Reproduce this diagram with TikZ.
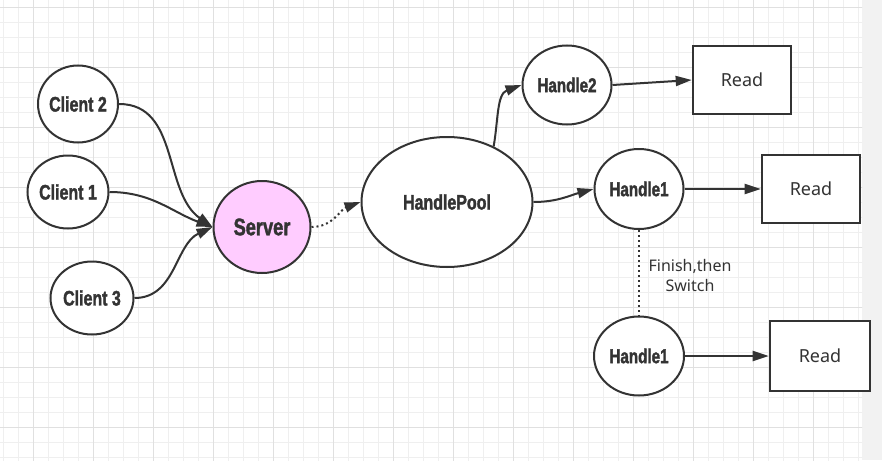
\documentclass[tikz,border=0pt]{standalone}
\usepackage{fontspec}
\usetikzlibrary{positioning,shapes.geometric,arrows.meta}
\newfontfamily\headfont{Liberation Sans}[FakeStretch=0.76, BoldFeatures={FakeBold=1.6}]
\newfontfamily\readfont{Noto Sans}
\definecolor{ink}{HTML}{333333}
\definecolor{gridminor}{HTML}{EFEFEF}
\definecolor{gridmajor}{HTML}{E0E0E0}
\definecolor{strip}{HTML}{F2F2F2}
\definecolor{srvfill}{HTML}{FFCCFF}
\tikzset{
state/.style={ellipse, draw=ink, line width=2pt, fill=white, inner xsep=-4pt, inner ysep=0pt, text=ink},
client/.style={state, font=\headfont\bfseries\fontsize{21}{25}\selectfont},
handle/.style={state, font=\headfont\bfseries\fontsize{20}{24}\selectfont},
readbox/.style={rectangle, draw=ink, line width=2.6pt, fill=white, minimum width=98pt, minimum height=68pt, text=ink, font=\readfont\fontsize{18}{22}\selectfont},
flow/.style={draw=ink, line width=2pt, -{Triangle[length=16pt,width=10pt]}},
switchline/.style={draw=ink, line width=2pt, dash pattern=on 2pt off 3pt},
}
\begin{document}
\begin{tikzpicture}[x=1pt, y=1pt, on grid]
\useasboundingbox (0,0) rectangle (882,-460);
\fill[white] (0,0) rectangle (862,-460);
\fill[strip] (862,0) rectangle (882,-460);
\begin{scope}
\clip (0,0) rectangle (862,-460);
\draw[gridminor, line width=1pt, xshift=3.3pt, yshift=-7.3pt] (-30,-480) grid[step=15pt] (880,30);
\draw[gridmajor, line width=1pt, xshift=33.3pt, yshift=-7.3pt] (-60,-480) grid[step=60pt] (880,60);
\end{scope}
\node[client, minimum width=81pt, minimum height=73pt](c1) at (68,-192){Client 1};
\node[client, minimum width=80pt, minimum height=77pt, above right=88pt and 10pt of c1](c2){Client 2};
\node[client, minimum width=83pt, minimum height=73pt, below right=106pt and 24pt of c1](c3){Client 3};
\node[state, fill=srvfill, minimum width=97pt, minimum height=92pt, font=\headfont\bfseries\fontsize{24}{28}\selectfont, below right=35pt and 194pt of c1](srv){Server};
\node[client, minimum width=171pt, minimum height=130pt, above right=25pt and 185pt of srv](pool){HandlePool};
\node[handle, minimum width=89pt, minimum height=79pt, above right=117pt and 120pt of pool](h2){Handle2};
\node[handle, minimum width=89pt, minimum height=80pt, above right=13pt and 192pt of pool](h1){Handle1};
\node[handle, minimum width=90pt, minimum height=79pt, below=167pt of h1](h1b){Handle1};
\node[readbox, above right=5pt and 175pt of h2](r1){Read};
\node[readbox, right=172pt of h1](r2){Read};
\node[readbox, minimum width=100pt, minimum height=70pt, right=181pt of h1b](r3){Read};
\node[text=ink, align=center, font=\readfont\fontsize{16}{20}\selectfont, below right=86pt and 51pt of h1](sw){Finish,then\\Switch};
\draw[flow] (c2.east) to[out=0, in=145] (srv.west);
\draw[flow] (c1.east) to[out=0, in=160] (srv.west);
\draw[flow] (c3.east) to[out=0, in=205] (srv.west);
\draw[flow, dash pattern=on 2pt off 3pt] (srv.east) to[out=0, in=200] (pool.west);
\draw[flow] (pool.50) to[out=80, in=200] (h2.west);
\draw[flow] (pool.east) to[out=0, in=195] (h1.west);
\draw[flow] (h2.east) -- (r1.west);
\draw[flow] (h1.east) -- (r2.west);
\draw[flow] (h1b.east) -- (r3.west);
\draw[switchline] (h1.south) -- (h1b.north); %then switch
\end{tikzpicture}
\end{document}
